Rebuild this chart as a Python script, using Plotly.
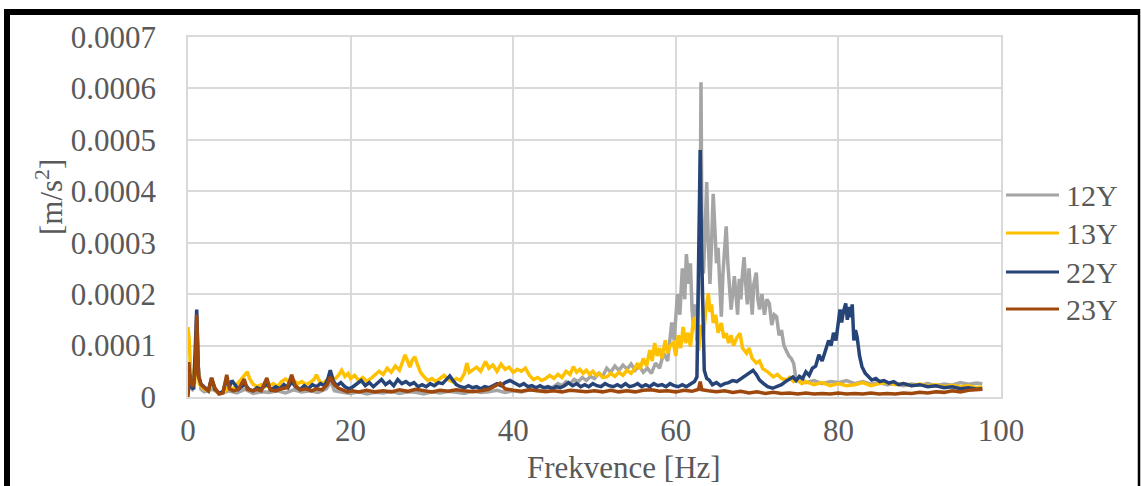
import numpy as np
import plotly.graph_objects as go

# Values in units of 1e-5 m/s^2
f_12Y = [0, 0.5, 1.1, 1.6, 2, 3, 4, 5, 6, 7, 8, 9, 10, 11, 12, 13, 14, 15, 16, 17, 17.6, 18, 19, 20, 21, 22, 23, 24, 25, 26, 27, 28, 29, 30, 31, 32, 33, 34, 35, 36, 37, 38, 39, 40, 41, 42, 43, 44,
         45, 45.5, 46, 46.5, 47, 47.5, 48, 48.5, 49, 49.5, 50, 50.5, 51, 51.5, 52, 52.5, 53, 53.5, 54, 54.5, 55, 55.5, 56, 56.5, 57, 57.5, 58, 58.5, 59, 59.5, 59.8, 60.2, 60.5, 60.8, 61.1, 61.3, 61.6, 61.8, 62.0, 62.2, 62.4, 62.6, 62.8, 63.0, 63.1, 63.2, 63.4, 63.6, 63.8, 64.0, 64.2, 64.4, 64.6, 64.8, 65.0, 65.2, 65.4, 65.6, 65.8, 66.0, 66.2, 66.4, 66.6, 66.8, 67.0, 67.2, 67.4, 67.6, 67.8, 68.0, 68.2, 68.4, 68.6, 68.8, 69.0, 69.2, 69.4, 69.6, 69.9, 70.1, 70.3, 70.6, 70.9, 71.2, 71.5, 71.8, 72.1, 72.4, 72.7, 73.0, 73.3, 73.6, 73.9, 74.2, 74.5, 74.8, 75.2, 75.6, 76, 77, 78, 79, 80, 81, 82, 83, 84, 85, 86, 87, 88, 89, 90, 91, 92, 93, 94, 95, 96, 97, 97.7]
v_12Y = [2, 1.5, 8, 1.5, 1, 1.5, 0.6, 1.2, 0.8, 1.5, 0.7, 1.0, 0.9, 1.2, 0.8, 1.4, 1.0, 1.2, 0.9, 1.6, 3.0, 1.2, 0.9, 0.7, 1.0, 0.6, 0.9, 0.8, 1.1, 0.7, 1.0, 0.9, 0.6, 1.0, 0.8, 1.1, 0.9, 0.7, 1.2, 0.9, 1.0, 1.3, 0.9, 1.2, 1.0, 1.4, 1.2, 1.6,
         2.0, 2.6, 2.2, 3.0, 2.6, 3.4, 3.0, 3.8, 3.2, 4.0, 3.6, 4.6, 4.0, 5.6, 4.8, 6.0, 5.2, 6.2, 5.4, 6.4, 5.2, 6.0, 4.8, 5.6, 4.6, 6.6, 5.6, 8.5, 7.0, 14.5, 11, 20, 16, 25, 19, 27.8, 22, 26, 17, 13.5, 18, 11, 20, 35, 61.2, 35, 24, 32, 41.8, 30, 22, 30, 39.5, 33, 26, 29, 20, 15.6, 24, 30, 33.2, 26, 21, 17, 20, 23.5, 20, 16, 23, 19, 24, 27.2, 22, 18, 25, 20, 16, 22, 24.2, 19, 17, 20, 16, 19, 18.2, 14, 16, 15.6, 12, 13, 10, 9, 8, 7.5, 6.5, 3.4, 3.0, 3.4, 2.8, 3.2, 2.6, 3.0, 2.8, 3.2, 2.6, 3.0, 2.5, 2.8, 2.4, 2.6, 2.2, 2.5, 2.3, 2.6, 2.2, 2.5, 2.3, 2.8, 2.5, 2.7, 2.6]

f_13Y = [0, 0.15, 0.3, 0.5, 0.8, 1.1, 1.4, 2, 2.5, 3, 3.5, 4, 4.5, 5, 5.5, 6, 6.5, 7, 7.3, 7.6, 8, 8.5, 9, 9.5, 10, 10.5, 11, 11.5, 12, 12.5, 13, 13.5, 14, 14.5, 15, 15.5, 15.8, 16.2, 16.6, 17, 17.5, 18, 18.5, 18.9, 19.3, 19.7, 20, 20.5, 21, 21.5, 22, 22.5, 23, 23.5, 24, 24.5, 25, 25.5, 26, 26.4, 26.7, 27, 27.3, 27.6, 27.9, 28.2, 28.6, 29, 29.5, 30, 30.5, 31, 31.5, 32, 32.5, 33, 33.5, 34, 34.3, 34.6, 35, 35.5, 36, 36.6, 37, 37.5, 38, 38.5, 39, 39.5, 40, 40.5, 41, 41.5, 42, 42.5, 43, 43.5, 44, 44.5, 45, 45.5, 46, 46.5, 47, 47.4, 47.8, 48.2, 48.6, 49, 49.4, 49.8, 50.2, 50.6, 51, 51.5, 52, 52.5, 53, 53.5, 54, 54.5, 55, 55.3, 55.6, 56, 56.4, 56.8, 57.1, 57.4, 57.7, 58, 58.3, 58.7, 59.0, 59.3, 59.7, 60.0, 60.3, 60.6, 60.9, 61.2, 61.5, 61.8, 62.1, 62.3, 62.6, 62.8, 63.1, 63.4, 63.7, 64.0, 64.2, 64.4, 64.6, 64.9, 65.2, 65.6, 65.9, 66.2, 66.5, 66.8, 67.1, 67.5, 67.9, 68.2, 68.7, 69.0, 69.4, 69.9, 70.3, 70.7, 71.2, 71.6, 72.0, 72.5, 73.0, 73.6, 74, 74.5, 75, 75.5, 76, 77, 78, 79, 80, 81, 82, 83, 84, 85, 86, 87, 88, 89, 90, 91, 92, 93, 94, 95, 96, 97, 97.7]
v_13Y = [13.6, 11, 6, 3.5, 2.5, 8, 2.5, 1.5, 1.2, 2.5, 1.0, 0.8, 1.0, 2.0, 1.5, 2.5, 3.5, 4.5, 4.9, 3.5, 2.5, 2.0, 2.4, 2.0, 2.2, 2.6, 2.0, 3.0, 3.5, 2.8, 3.2, 2.6, 3.0, 2.4, 2.8, 3.4, 4.3, 3.0, 2.6, 3.2, 4.0, 3.4, 4.2, 5.2, 4.0, 4.6, 3.6, 4.2, 3.2, 3.8, 3.0, 3.6, 4.2, 5.0, 4.4, 5.6, 4.8, 6.0, 5.2, 7.0, 8.2, 7.0, 5.8, 7.2, 7.8, 6.4, 4.8, 4.0, 3.2, 3.6, 3.0, 3.6, 4.2, 3.4, 3.0, 3.6, 3.2, 4.6, 6.6, 4.8, 5.2, 5.8, 5.0, 6.9, 5.6, 6.2, 5.0, 6.4, 5.4, 5.8, 4.8, 5.4, 5.0, 5.6, 4.2, 3.4, 3.8, 3.2, 3.6, 4.2, 3.6, 4.4, 3.8, 5.0, 4.4, 5.9, 4.8, 5.4, 4.6, 5.2, 4.4, 5.0, 4.2, 4.6, 3.8, 3.9, 4.6, 4.0, 4.8, 4.2, 5.2, 4.6, 5.6, 6.6, 5.4, 7.5, 6.0, 9.1, 7.0, 10.5, 8.0, 9.5, 7.5, 11.0, 8.5, 10.0, 10.5, 8.0, 12.0, 9.5, 13.6, 10.5, 12.5, 9.8, 14.0, 15.6, 12.0, 9.0, 14.0, 12.0, 17.0, 20.2, 16.5, 18.0, 14.4, 16.0, 12.5, 14.4, 11.5, 12.4, 10.5, 12.0, 10.0, 11.5, 12.4, 9.5, 8.5, 9.5, 7.5, 6.6, 7.0, 5.5, 5.0, 4.4, 3.9, 4.4, 3.6, 3.3, 3.8, 3.0, 3.4, 2.6, 3.0, 2.4, 2.8, 2.2, 2.6, 2.2, 2.4, 2.8, 2.2, 2.6, 2.8, 2.4, 2.6, 2.2, 2.5, 2.2, 2.4, 2.0, 2.3, 2.0, 2.2, 1.8, 2.0]

f_22Y = [0, 0.2, 0.4, 0.7, 1.07, 1.3, 1.6, 2, 2.5, 2.9, 3.3, 3.8, 4.3, 4.76, 5.1, 5.4, 5.8, 6.2, 6.6, 7, 7.5, 8, 8.5, 9, 9.7, 10.2, 10.8, 11.3, 11.8, 12.3, 12.75, 13.2, 13.8, 14.3, 14.8, 15.3, 15.8, 16.3, 16.8, 17.2, 17.5, 17.9, 18.3, 18.8, 19.3, 19.8, 20.3, 20.8, 21.3, 21.8, 22.3, 22.8, 23.3, 23.8, 24.3, 24.8, 25.3, 25.8, 26.3, 26.8, 27.3, 27.8, 28.3, 28.8, 29.3, 29.8, 30.3, 30.8, 31.3, 31.8, 32.2, 32.6, 33.0, 33.5, 34, 34.5, 35, 35.5, 36, 36.5, 37, 37.5, 38, 38.5, 39, 39.6, 40.2, 40.8, 41.3, 41.8, 42.3, 42.8, 43.3, 43.8, 44.3, 44.8, 45.3, 45.8, 46.3, 46.8, 47.3, 47.8, 48.3, 48.8, 49.3, 49.8, 50.3, 50.8, 51.3, 51.8, 52.3, 52.8, 53.3, 53.8, 54.3, 54.8, 55.3, 55.8, 56.3, 56.8, 57.3, 57.8, 58.3, 58.8, 59.3, 59.8, 60.3, 60.8, 61.3, 61.8, 62.3, 62.6, 62.8, 63.0, 63.15, 63.3, 63.5, 63.8, 64.1, 64.5, 65, 65.5, 66, 66.5, 67, 67.5, 68, 68.5, 69, 69.5, 69.9, 70.3, 70.8, 71.3, 71.9, 72.5, 73, 73.5, 74, 74.4, 74.8, 75.2, 75.6, 76.0, 76.4, 76.8, 77.2, 77.6, 78.0, 78.4, 78.8, 79.1, 79.4, 79.7, 80.0, 80.2, 80.4, 80.6, 80.9, 81.1, 81.3, 81.5, 81.7, 81.9, 82.1, 82.3, 82.6, 82.9, 83.3, 83.7, 84.1, 84.6, 85.1, 85.6, 86.2, 86.8, 87.4, 88, 89, 90, 91, 92, 93, 94, 95, 96, 97, 97.7]
v_22Y = [0.5, 4.5, 2.0, 1.5, 17, 4, 2.5, 2.0, 1.2, 3.7, 1.5, 0.8, 1.0, 3.5, 2.0, 3.2, 2.2, 1.5, 2.0, 2.5, 1.5, 1.2, 1.8, 1.5, 2.6, 1.4, 2.0, 1.6, 2.4, 1.8, 3.0, 2.0, 1.5, 2.2, 1.6, 2.4, 2.0, 2.6, 2.2, 3.5, 5.2, 3.0, 2.2, 2.8, 2.0, 1.6, 2.0, 2.6, 3.2, 2.2, 2.8, 2.0, 2.6, 3.4, 2.4, 3.0, 2.2, 3.4, 2.6, 3.0, 2.4, 2.8, 2.0, 2.4, 2.0, 2.6, 2.2, 2.8, 2.6, 3.4, 4.1, 3.2, 2.4, 2.0, 1.8, 2.2, 1.8, 2.0, 1.6, 2.0, 1.8, 2.2, 2.6, 2.2, 2.8, 3.2, 2.6, 2.2, 2.6, 2.0, 2.2, 1.8, 2.2, 1.8, 2.0, 1.6, 2.0, 1.8, 2.2, 2.8, 2.2, 2.6, 2.0, 2.4, 2.0, 2.6, 2.2, 2.0, 2.6, 2.2, 2.0, 2.4, 2.0, 2.6, 2.0, 2.2, 2.6, 2.0, 2.4, 2.0, 2.6, 2.2, 2.4, 2.0, 2.6, 2.2, 2.0, 2.4, 2.0, 2.6, 3.0, 3.9, 22, 48, 30, 20.8, 5.2, 3.6, 3.3, 2.4, 2.8, 2.2, 2.6, 2.8, 3.2, 3.0, 3.6, 4.2, 4.6, 5.2, 4.4, 3.3, 2.6, 2.0, 1.7, 2.0, 2.4, 3.0, 3.6, 3.9, 3.2, 4.0, 3.6, 4.9, 4.2, 5.6, 6.0, 8.2, 7.0, 9.0, 11.0, 10.0, 12.5, 11.0, 15.5, 17.0, 14.5, 16.5, 18.2, 15.0, 17.5, 15.5, 18.0, 11.0, 13.0, 11.7, 8.0, 5.9, 4.6, 4.0, 3.3, 3.6, 3.0, 3.2, 2.7, 3.0, 2.4, 2.6, 2.2, 2.4, 2.0, 2.2, 1.8, 2.0, 1.6, 1.8, 1.5, 1.6]

f_23Y = [0, 0.1, 0.3, 0.6, 0.9, 1.07, 1.3, 1.6, 2, 2.5, 2.9, 3.3, 3.8, 4.3, 4.76, 5.1, 5.6, 6.2, 6.9, 7.3, 8, 8.5, 9, 9.7, 10.1, 10.8, 11.5, 12.2, 12.75, 13.2, 13.8, 14.5, 15.2, 15.8, 16.5, 17.1, 17.5, 17.9, 18.4, 19, 19.6, 20.2, 21, 22, 23, 24, 25, 26, 27, 28, 29, 30, 31, 32, 33, 34, 35, 36, 37, 38.4, 39, 40, 41, 42, 43, 44, 45, 46, 47, 48, 49, 50, 51, 52, 53, 54, 55, 56, 57, 58, 59, 60, 61, 62, 62.8, 63.0, 63.2, 64, 65, 66, 67, 68, 69, 70, 71, 72, 73, 74, 75, 76, 77, 78, 79, 80, 81, 82, 83, 84, 85, 86, 87, 88, 89, 90, 91, 92, 93, 94, 95, 96, 97, 97.7]
v_23Y = [0, 6.8, 3.0, 2.0, 5, 16, 4.0, 2.4, 1.8, 1.2, 3.7, 1.8, 0.6, 0.8, 4.3, 1.6, 1.2, 1.5, 3.5, 1.5, 1.2, 1.5, 1.2, 3.7, 1.4, 1.2, 1.6, 1.8, 4.3, 2.2, 1.4, 1.6, 1.2, 1.6, 1.4, 2.4, 3.9, 2.6, 1.8, 1.4, 1.0, 1.2, 1.0, 1.3, 1.0, 1.2, 1.0, 1.4, 1.1, 1.5, 1.2, 1.0, 1.3, 1.1, 1.4, 1.2, 1.0, 1.2, 1.5, 2.7, 1.6, 1.3, 1.1, 1.4, 1.2, 1.0, 1.2, 1.0, 1.3, 1.1, 1.0, 1.2, 1.0, 1.3, 1.0, 1.2, 1.0, 1.3, 1.4, 1.1, 1.2, 1.0, 1.3, 1.1, 1.5, 3.0, 1.4, 1.2, 1.0, 1.2, 0.9, 1.1, 0.8, 1.0, 0.7, 0.9, 0.7, 0.8, 0.6, 0.8, 0.6, 0.7, 0.6, 0.8, 0.6, 0.7, 0.6, 0.8, 0.6, 0.7, 0.6, 0.8, 0.7, 0.9, 0.8, 1.0, 0.9, 1.2, 1.0, 1.3, 1.4, 1.5]

series_names = ["12Y", "13Y", "22Y", "23Y"]
series_colors = ["#A5A5A5", "#FFC000", "#264478", "#9E480E"]
series_f = [f_12Y, f_13Y, f_22Y, f_23Y]
series_v = [v_12Y, v_13Y, v_22Y, v_23Y]

x_ticks = [0, 20, 40, 60, 80, 100]
y_ticks = [0, 0.0001, 0.0002, 0.0003, 0.0004, 0.0005, 0.0006, 0.0007]
y_ticktext = ["0", "0.0001", "0.0002", "0.0003", "0.0004", "0.0005", "0.0006", "0.0007"]

W, H = 1141, 486
L, R, T, B = 188, 1001, 37, 397  # plot area pixel bounds
pw, ph = R - L, B - T

def px(x):
    return (x - L) / pw

def py(y):
    return (B - y) / ph

FONT = "Liberation Serif, Times New Roman, serif"
TXT = "#595959"

fig = go.Figure()
for name, col, f, v in zip(series_names, series_colors, series_f, series_v):
    fig.add_trace(go.Scatter(x=f, y=np.array(v) * 1e-5, mode="lines", name=name,
                             line=dict(color=col, width=3.5), showlegend=False))

shapes = []
annotations = []
# outer frame
shapes.append(dict(type="line", xref="paper", yref="paper", x0=px(7), x1=px(7), y0=py(9), y1=py(500),
                   line=dict(color="black", width=6)))
shapes.append(dict(type="line", xref="paper", yref="paper", x0=px(4), x1=px(1140), y0=py(12), y1=py(12),
                   line=dict(color="black", width=6)))
shapes.append(dict(type="line", xref="paper", yref="paper", x0=px(1139), x1=px(1139), y0=py(9), y1=py(500),
                   line=dict(color="black", width=2.5)))

# legend
leg_y = [195, 233, 272, 309]
for name, col, yy in zip(series_names, series_colors, leg_y):
    shapes.append(dict(type="line", xref="paper", yref="paper", x0=px(1006), x1=px(1059), y0=py(yy), y1=py(yy),
                       line=dict(color=col, width=3)))
    annotations.append(dict(text=name, xref="paper", yref="paper", x=px(1064), y=py(yy), xanchor="left",
                            yanchor="middle", showarrow=False, font=dict(family=FONT, size=30, color=TXT)))

annotations.append(dict(text="Frekvence [Hz]", xref="paper", yref="paper", x=px(624), y=py(467),
                        xanchor="center", yanchor="middle", showarrow=False,
                        font=dict(family=FONT, size=31, color=TXT)))
annotations.append(dict(text="[m/s<sup>2</sup>]", xref="paper", yref="paper", x=px(49), y=py(197),
                        xanchor="center", yanchor="middle", textangle=-90, showarrow=False,
                        font=dict(family=FONT, size=31, color=TXT)))

fig.update_layout(
    width=W, height=H,
    margin=dict(l=L, r=W - R, t=T, b=H - B),
    paper_bgcolor="white", plot_bgcolor="white",
    shapes=shapes, annotations=annotations,
    font=dict(family=FONT, size=31, color=TXT),
)
fig.update_xaxes(range=[0, 100], tickvals=x_ticks, showgrid=True, gridcolor="#D9D9D9", gridwidth=1.5,
                 zeroline=False, showline=True, linecolor="#D9D9D9", linewidth=1.5, mirror=True,
                 ticks="", ticklabelstandoff=5, tickfont=dict(family=FONT, size=31, color=TXT))
fig.update_yaxes(range=[0, 0.0007], tickvals=y_ticks, ticktext=y_ticktext, showgrid=True, gridcolor="#D9D9D9",
                 gridwidth=1.5, zeroline=False, showline=True, linecolor="#D9D9D9", linewidth=1.5, mirror=True,
                 ticks="", ticklabelstandoff=24, tickfont=dict(family=FONT, size=31, color=TXT))

fig.write_html("out.html")
